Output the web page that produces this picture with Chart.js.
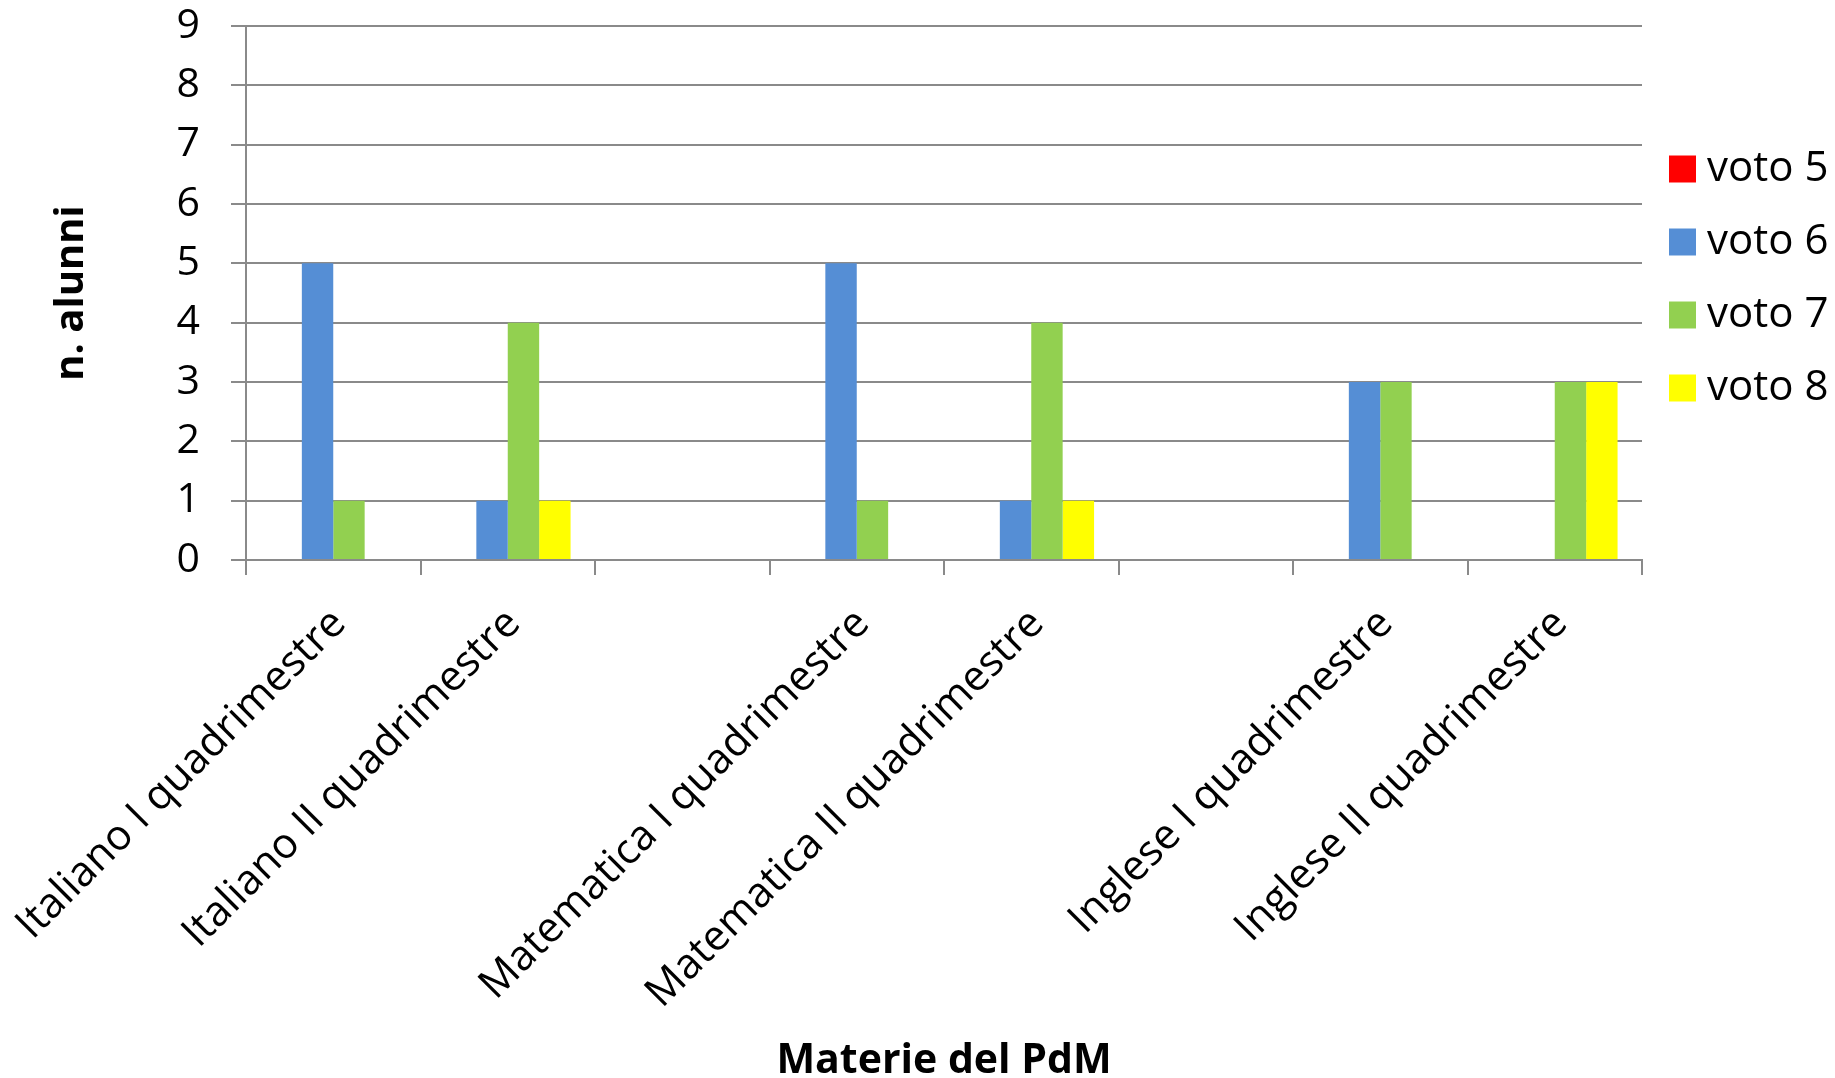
<!DOCTYPE html>
<html>
<head>
<meta charset="utf-8">
<script src="https://cdn.jsdelivr.net/npm/chart.js@4/dist/chart.umd.min.js"></script>
<style>
    html, body { margin: 0; padding: 0; background: #fff; }
    #wrap { width: 1835px; height: 1078px; position: relative; }
</style>
</head>
<body>
<div id="wrap"><canvas id="chart"></canvas></div>
<script>
// Data
const categories = [
    'Italiano I quadrimestre', 'Italiano II quadrimestre', '',
    'Matematica I quadrimestre', 'Matematica II quadrimestre', '',
    'Inglese I quadrimestre', 'Inglese II quadrimestre'
];
const voto5 = [0, 0, 0, 0, 0, 0, 0, 0];
const voto6 = [5, 1, 0, 5, 1, 0, 3, 0];
const voto7 = [1, 4, 0, 1, 4, 0, 3, 3];
const voto8 = [0, 1, 0, 0, 1, 0, 0, 3];
const yTicks = [0, 1, 2, 3, 4, 5, 6, 7, 8, 9];

const FONT = "'Open Sans', sans-serif";
const GRID = '#8a8a8a';

const makeSet = (label, data, color) => ({
    label: label,
    data: data,
    backgroundColor: color,
    borderWidth: 0,
    categoryPercentage: 0.72,
    barPercentage: 1
});

// keep the legend column a fixed width so the plot ends where the original does
const legendFix = {
    id: 'legendFix',
    beforeLayout(chart) {
        const lg = chart.legend;
        if (!lg || lg._fixed) return;
        const fit = lg.fit.bind(lg);
        lg.fit = function () {
            fit();
            this.width = 193;
        };
        lg._fixed = true;
    },
    afterLayout(chart) {
        // nudge the legend a little to the right of the plot edge
        const lg = chart.legend;
        lg.left = chart.chartArea.right + 6;
        lg.right = lg.left + lg.width;
    }
};

new Chart(document.getElementById('chart'), {
    type: 'bar',
    data: {
        labels: categories,
        datasets: [
            makeSet('voto 5', voto5, '#FF0000'),
            makeSet('voto 6', voto6, '#558ED5'),
            makeSet('voto 7', voto7, '#92D050'),
            makeSet('voto 8', voto8, '#FFFF00')
        ]
    },
    plugins: [legendFix],
    options: {
        responsive: true,
        maintainAspectRatio: false,
        animation: false,
        layout: { padding: 0 },
        plugins: {
            tooltip: { enabled: false },
            legend: {
                position: 'right',
                fullSize: false,
                align: 'start',
                title: {
                    display: true,
                    text: ' ',
                    font: { size: 10, lineHeight: 1 },
                    padding: { top: 81, bottom: 0 }
                },
                labels: {
                    // small box + wide stroke of the same colour: a 27px square closer to the text
                    boxWidth: 7,
                    boxHeight: 7,
                    padding: 31,
                    color: '#000',
                    font: { family: FONT, size: 42 },
                    generateLabels: chart => {
                        const items = Chart.defaults.plugins.legend.labels.generateLabels(chart);
                        items.forEach(it => {
                            it.strokeStyle = it.fillStyle;
                            it.lineWidth = 20;
                        });
                        return items;
                    }
                }
            }
        },
        scales: {
            x: {
                afterFit: s => {
                    s.height = 518;
                    s.paddingLeft = 0;
                    s.paddingRight = 0;
                },
                grid: {
                    drawOnChartArea: false,
                    drawTicks: true,
                    tickLength: 15,
                    color: GRID,
                    lineWidth: 2
                },
                border: { color: GRID, width: 2 },
                ticks: {
                    autoSkip: false,
                    minRotation: 45,
                    maxRotation: 45,
                    padding: 24,
                    labelOffset: 6,
                    color: '#000',
                    font: { family: FONT, size: 42 }
                },
                title: {
                    display: true,
                    text: 'Materie del PdM',
                    color: '#000',
                    font: { family: FONT, size: 41, weight: 'bold', lineHeight: 1 },
                    padding: { top: 0, bottom: -4 }
                }
            },
            y: {
                min: 0,
                max: 9,
                afterFit: s => {
                    s.width = 246;
                    s.paddingTop = 26;
                    s.paddingBottom = 0;
                },
                afterBuildTicks: s => { s.ticks = yTicks.map(v => ({ value: v })); },
                grid: {
                    color: GRID,
                    lineWidth: 2,
                    tickLength: 15
                },
                border: { color: GRID, width: 2 },
                ticks: {
                    padding: 31,
                    color: '#000',
                    font: { family: FONT, size: 41 }
                },
                title: {
                    display: true,
                    text: 'n. alunni',
                    color: '#000',
                    font: { family: FONT, size: 40, weight: 'bold', lineHeight: 1.2 },
                    padding: { top: 48, bottom: 0 }
                }
            }
        }
    }
});
</script>
</body>
</html>
